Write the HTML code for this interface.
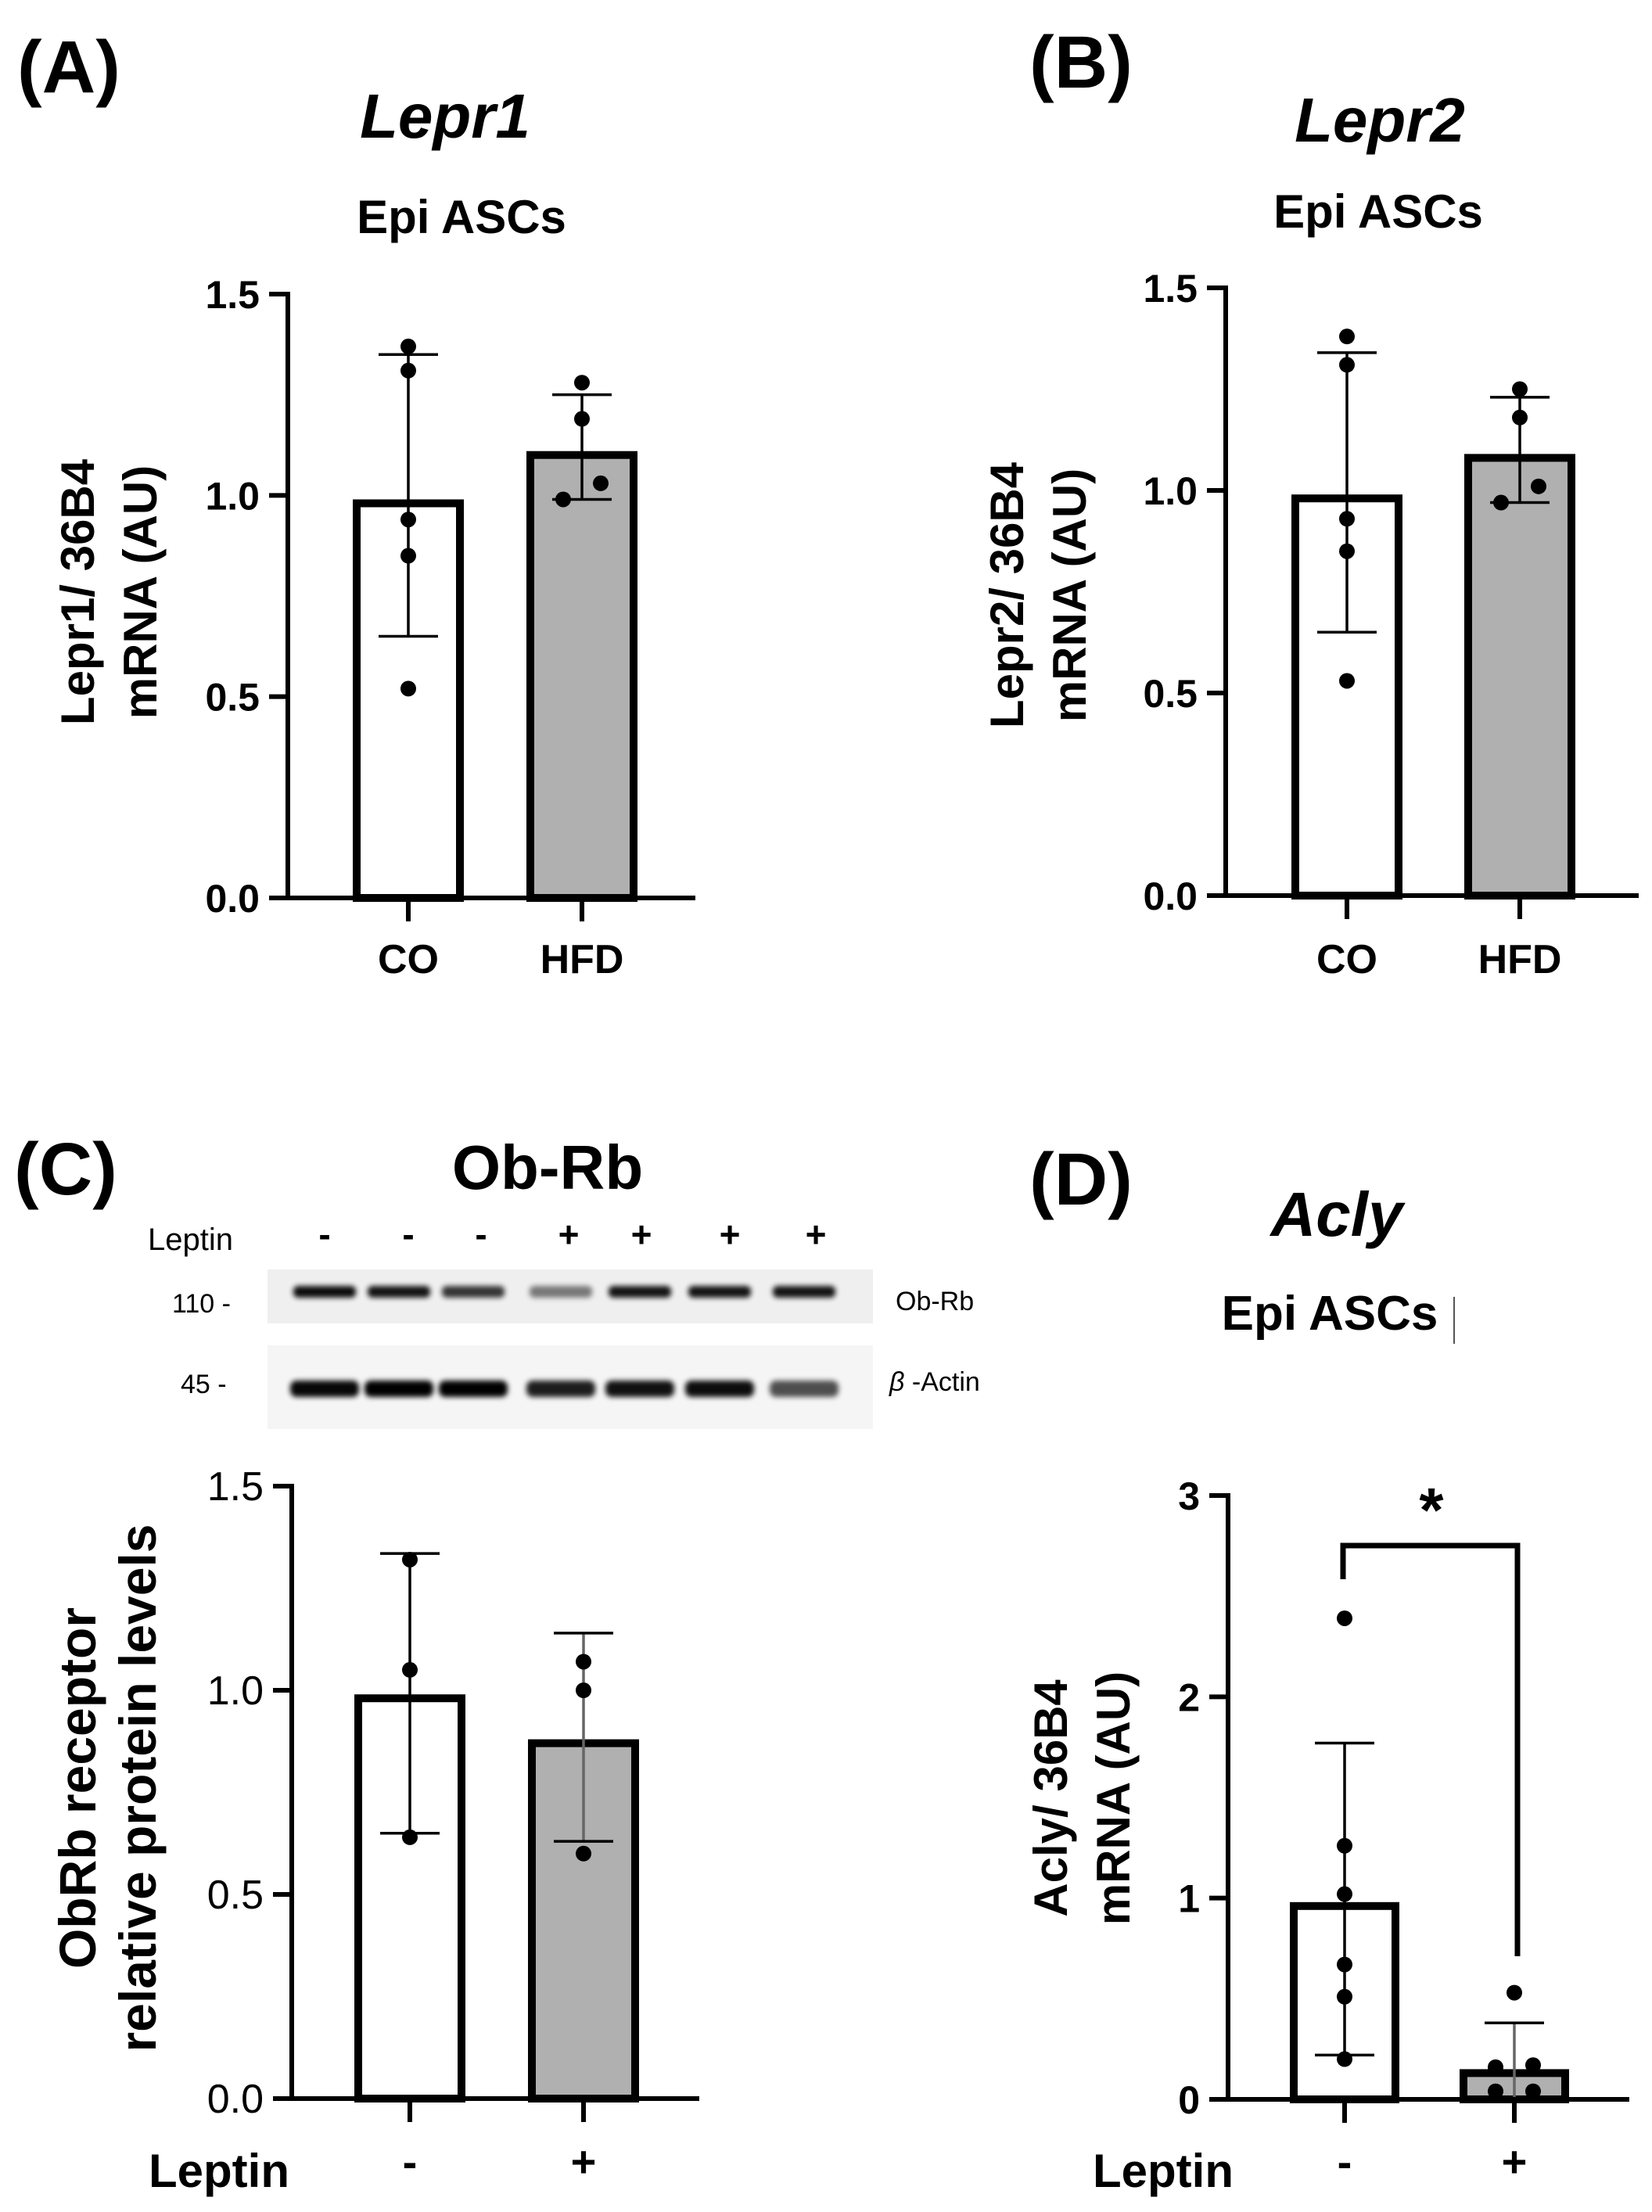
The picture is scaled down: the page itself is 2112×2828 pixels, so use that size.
<!DOCTYPE html>
<html><head><meta charset="utf-8"><style>
html,body{margin:0;padding:0;background:#fff}
svg{display:block}
text{font-family:"Liberation Sans",Arial,sans-serif;fill:#000}
</style></head><body>
<svg id="fig" width="2112" height="2828" viewBox="0 0 2112 2828" xmlns="http://www.w3.org/2000/svg">
<defs><filter id="blur" x="-20%" y="-100%" width="140%" height="300%"><feGaussianBlur stdDeviation="3.5"/></filter></defs>
<text x="22" y="118" font-size="95" font-weight="bold">(A)</text>
<text x="569" y="176" font-size="80" font-weight="bold" font-style="italic" text-anchor="middle">Lepr1</text>
<text x="590" y="298" font-size="60" font-weight="bold" text-anchor="middle">Epi ASCs</text>
<text x="1316" y="112" font-size="95" font-weight="bold">(B)</text>
<text x="1764" y="181" font-size="80" font-weight="bold" font-style="italic" text-anchor="middle">Lepr2</text>
<text x="1762" y="291" font-size="60" font-weight="bold" text-anchor="middle">Epi ASCs</text>
<text x="18" y="1527" font-size="95" font-weight="bold">(C)</text>
<text x="700" y="1520" font-size="80" font-weight="bold" text-anchor="middle">Ob-Rb</text>
<text x="1316" y="1540" font-size="95" font-weight="bold">(D)</text>
<text x="1709" y="1580" font-size="80" font-weight="bold" font-style="italic" text-anchor="middle">Acly</text>
<text x="1700" y="1700" font-size="62" font-weight="bold" text-anchor="middle">Epi ASCs</text>
<rect x="1858" y="1658" width="2" height="60" fill="#555"/>
<g id="blot">
<text x="189" y="1598" font-size="40">Leptin</text>
<text x="220" y="1678" font-size="34">110 -</text>
<text x="231" y="1781" font-size="34">45  -</text>
<text x="1145" y="1675" font-size="34">Ob-Rb</text>
<text x="1137" y="1778" font-size="34"><tspan font-style="italic">β</tspan> -Actin</text>
<rect x="342" y="1623" width="774" height="69" fill="#efefef"/>
<rect x="342" y="1720" width="774" height="107" fill="#f5f5f5"/>
</g>
<g id="charts"></g>
</svg>
<script>
// ---- Panel A data ----
const catsA = ['CO','HFD'];
const meansA = [0.99, 1.11];
const errLowA = [0.65, 0.99];
const errHighA = [1.35, 1.25];
const ptsA = [[1.37, 1.31, 0.94, 0.85, 0.52], [1.28, 1.19, 1.03, 0.99]];
const ticksA = ['0.0','0.5','1.0','1.5'];
// ---- Panel B data ----
const catsB = ['CO','HFD'];
const meansB = [0.99, 1.09];
const errLowB = [0.65, 0.97];
const errHighB = [1.34, 1.23];
const ptsB = [[1.38, 1.31, 0.93, 0.85, 0.53], [1.25, 1.18, 1.01, 0.97]];
const ticksB = ['0.0','0.5','1.0','1.5'];
// ---- Panel C data ----
const catsC = ['-','+'];
const meansC = [0.99, 0.88];
const errLowC = [0.65, 0.63];
const errHighC = [1.335, 1.14];
const ptsC = [[1.32, 1.05, 0.64], [1.07, 1.00, 0.60]];
const ticksC = ['0.0','0.5','1.0','1.5'];
// ---- Panel D data ----
const catsD = ['-','+'];
const meansD = [0.98, 0.15];
const errLowD = [0.22, 0.0];
const errHighD = [1.77, 0.38];
const ptsD = [[2.39, 1.26, 1.02, 0.67, 0.51, 0.2], [0.53, 0.17, 0.16, 0.04, 0.04]];
const ticksD = ['0','1','2','3'];
// ---- Blot lane data ----
const blotSigns = ['-','-','-','+','+','+','+'];
const obrbIntensity = [0.95, 0.92, 0.78, 0.5, 0.92, 0.92, 0.92];
const actinIntensity = [0.97, 1.0, 1.0, 0.88, 0.93, 0.95, 0.68];

const NS = 'http://www.w3.org/2000/svg';
const root = document.getElementById('charts');
function mk(tag, attrs, parent){
  const e = document.createElementNS(NS, tag);
  for (const k in attrs) e.setAttribute(k, attrs[k]);
  (parent || root).appendChild(e);
  return e;
}

function panel(p, cats, means, lo, hi, pts, ticks){
  const g = mk('g', {});
  
  
  const ymax = parseFloat(ticks[ticks.length-1]);
  const y = v => p.y0 - v * (p.y0 - p.yTop) / ymax;
  cats.forEach((c, i) => {
    const cx = p.cx[i];
    const r = mk('rect', {x: cx - p.bw/2 + 5, y: y(means[i]) + 5, width: p.bw - 10, height: p.y0 - y(means[i]) - 5,
      fill: i === 0 ? '#fff' : '#b0b0b0', stroke: '#000', 'stroke-width': 10}, g);
    
    
  });
  cats.forEach((c, i) => {
    const cx = p.cx[i];
    const col = (i === 1 && p.grayErr) ? '#666' : '#000';
    const eg = mk('g', {stroke: col, 'stroke-width': 3.5}, g);
    
    
    mk('line', {x1: cx, x2: cx, y1: y(hi[i]), y2: y(lo[i])}, eg);
    mk('line', {x1: cx - 38, x2: cx + 38, y1: y(hi[i]), y2: y(hi[i]), stroke: '#000'}, eg);
    if (lo[i] > 0.02) mk('line', {x1: cx - 38, x2: cx + 38, y1: y(lo[i]), y2: y(lo[i]), stroke: '#000'}, eg);
  });
  cats.forEach((c, i) => {
    pts[i].forEach((v, j) => {
      const jit = (p.jit[i] && p.jit[i][j]) || 0;
      const d = mk('circle', {cx: p.cx[i] + jit, cy: y(v), r: 10, fill: '#000'}, g);
      
      
    });
  });
  const ax = mk('g', {stroke: '#000', 'stroke-width': 6, fill: 'none'}, g);
  
  
  mk('line', {x1: p.x0, x2: p.x0, y1: p.yTop - 3, y2: p.y0 + 3}, ax);
  mk('line', {x1: p.x0 - 24, x2: p.xEnd, y1: p.y0, y2: p.y0}, ax);
  ticks.forEach(t => {
    const v = parseFloat(t);
    mk('line', {x1: p.x0 - 24, x2: p.x0, y1: y(v), y2: y(v)}, ax);
    const tx = mk('text', {x: p.x0 - 36, y: y(v) + 18, 'font-size': p.tickFs, 'font-weight': p.tickW, 'text-anchor': 'end'}, g);
    tx.textContent = t;
    
    
  });
  cats.forEach((c, i) => {
    mk('line', {x1: p.cx[i], x2: p.cx[i], y1: p.y0, y2: p.y0 + 30}, ax);
    const tx = mk('text', {x: p.cx[i], y: p.catY, 'font-size': p.catFs, 'font-weight': 'bold', 'text-anchor': 'middle'}, g);
    tx.textContent = c;
    
    
  });
  const yl = mk('text', {transform: 'translate(' + p.ylx + ',' + p.yly + ') rotate(-90)', 'font-size': p.ylFs, 'font-weight': p.ylW, 'text-anchor': 'middle'}, g);
  
  
  const t1 = mk('tspan', {x: 0, y: 0}, yl); t1.textContent = p.yl[0];
  const t2 = mk('tspan', {x: 0, y: p.ylGap}, yl); t2.textContent = p.yl[1];
  if (p.xTitle) {
    const xt = mk('text', {x: p.xTitle[0], y: p.xTitle[1], 'font-size': 60, 'font-weight': 'bold'}, g);
    xt.textContent = 'Leptin';
    
    
  }
  return y;
}

panel({id:'panel-a', x0:368, xEnd:889, y0:1148, yTop:376, cx:[522,744], bw:142, jit:[[],[0,0,24,-24]],
  tickFs:50, tickW:'bold', catFs:52, catY:1244, ylx:120, yly:757, ylFs:60, ylW:'bold', ylGap:80, yl:['Lepr1/ 36B4','mRNA (AU)']},
  catsA, meansA, errLowA, errHighA, ptsA, ticksA);
panel({id:'panel-b', x0:1567, xEnd:2095, y0:1145, yTop:368, cx:[1722,1943], bw:142, jit:[[],[0,0,24,-24]],
  tickFs:50, tickW:'bold', catFs:52, catY:1244, ylx:1308, yly:761, ylFs:60, ylW:'bold', ylGap:80, yl:['Lepr2/ 36B4','mRNA (AU)']},
  catsB, meansB, errLowB, errHighB, ptsB, ticksB);
panel({id:'panel-c', x0:373, xEnd:894, y0:2683, yTop:1900, cx:[524,746], bw:142, jit:[[],[]], grayErr:true,
  tickFs:52, tickW:'normal', catFs:56, catY:2783, ylx:122, yly:2286, ylFs:66, ylW:'600', ylGap:77, yl:['ObRb receptor','relative protein levels'], xTitle:[190,2796]},
  catsC, meansC, errLowC, errHighC, ptsC, ticksC);
const yD = panel({id:'panel-d', x0:1570, xEnd:2083, y0:2684, yTop:1912, cx:[1719,1936], bw:140, jit:[[],[0,24,-24,-24,24]], grayErr:true,
  tickFs:50, tickW:'bold', catFs:56, catY:2783, ylx:1364, yly:2299, ylFs:60, ylW:'bold', ylGap:80, yl:['Acly/ 36B4','mRNA (AU)'], xTitle:[1397,2796]},
  catsD, meansD, errLowD, errHighD, ptsD, ticksD);

const br = mk('path', {d: 'M1717 ' + (yD(ptsD[0][0]) - 50) + ' V1976 H1940 V2501', stroke: '#000', 'stroke-width': 7, fill: 'none'});


const star = mk('text', {x: 1830, y: 1958, 'font-size': 80, 'font-weight': 'bold', 'text-anchor': 'middle'});
star.textContent = '*';



const blot = document.getElementById('blot');
const laneX = [415, 510, 605, 717, 818, 920, 1028];
const signX = [415, 522, 615, 727, 820, 933, 1043];
blotSigns.forEach((s, i) => {
  const t = mk('text', {x: signX[i], y: 1594, 'font-size': 46, 'font-weight': 'bold', 'text-anchor': 'middle'}, blot);
  t.textContent = s;
  
  
  const b1 = mk('rect', {x: laneX[i] - 40, y: 1644, width: 80, height: 15, rx: 6, fill: '#000', opacity: obrbIntensity[i], filter: 'url(#blur)'}, blot);
  
  
  const b2 = mk('rect', {x: laneX[i] - 44, y: 1765, width: 88, height: 21, rx: 8, fill: '#000', opacity: actinIntensity[i], filter: 'url(#blur)'}, blot);
  
  
});
</script>
</body></html>
